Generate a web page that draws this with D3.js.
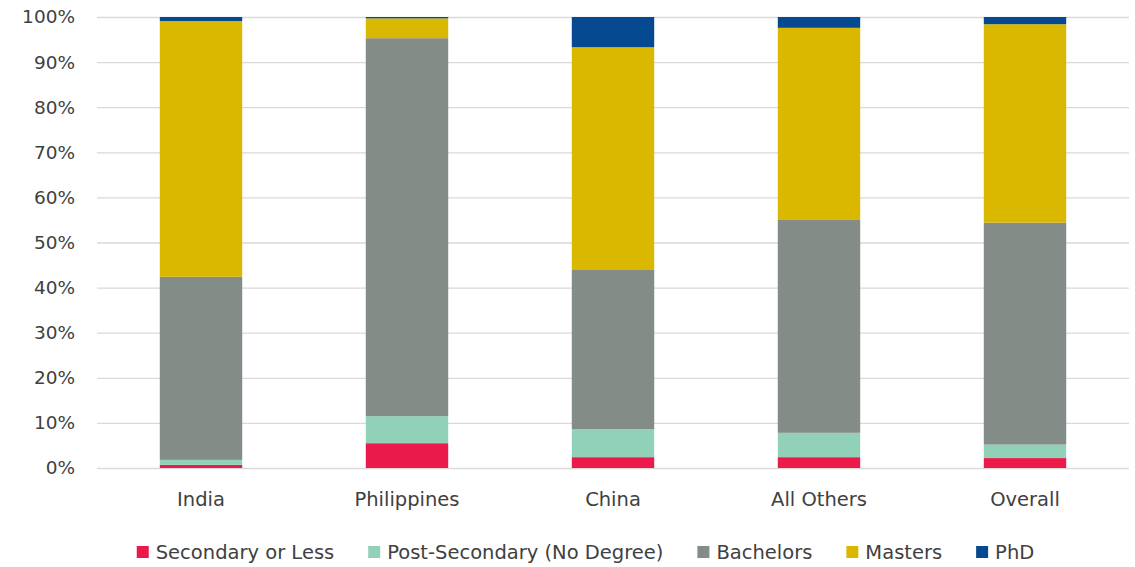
<!DOCTYPE html>
<html>
<head>
<meta charset="utf-8">
<script src="https://cdn.jsdelivr.net/npm/d3@7"></script>
<style>
  html, body { margin: 0; padding: 0; background: #fff; }
  svg text { font-family: "DejaVu Sans", "Liberation Sans", sans-serif; fill: #404040; }
</style>
</head>
<body>
<svg id="chart" width="1135" height="567"></svg>
<script>
// Education level shares (%) by country of birth
const categories = ["India", "Philippines", "China", "All Others", "Overall"];
const seriesNames = ["Secondary or Less", "Post-Secondary (No Degree)", "Bachelors", "Masters", "PhD"];
const secondary     = [0.7, 5.5, 2.4, 2.4, 2.2];
const postSecondary = [1.1, 6.0, 6.2, 5.4, 3.0];
const bachelors     = [40.6, 83.8, 35.3, 47.2, 49.2];
const masters       = [56.7, 4.4, 49.4, 42.6, 44.0];
const phd           = [0.9, 0.3, 6.7, 2.4, 1.6];
const yTicks = [0, 10, 20, 30, 40, 50, 60, 70, 80, 90, 100];

const colors = ["#EC1A4B", "#90D1B8", "#848C88", "#DBB800", "#054A91"];
const seriesValues = [secondary, postSecondary, bachelors, masters, phd];

const rows = categories.map((c, i) => {
  const r = { category: c };
  seriesNames.forEach((s, j) => { r[s] = seriesValues[j][i]; });
  return r;
});

const svg = d3.select("#chart");
const plot = { left: 98, right: 1128, top: 17, bottom: 468 };

const x = d3.scaleBand().domain(categories)
  .range([plot.left, plot.right]).paddingInner(0.6).paddingOuter(0.3);
const y = d3.scaleLinear().domain([0, 100]).range([plot.bottom, plot.top]);
const color = d3.scaleOrdinal().domain(seriesNames).range(colors);

// Gridlines and percentage labels
const yAxis = d3.axisLeft(y).tickValues(yTicks)
  .tickFormat(d => d + "%")
  .tickSizeInner(-(plot.right - plot.left + 2)).tickSizeOuter(0).tickPadding(22);
const gy = svg.append("g").attr("transform", `translate(${plot.left - 1},0)`).call(yAxis);
gy.select(".domain").remove();
gy.selectAll(".tick line").attr("stroke", "#d9d9d9").attr("stroke-width", 1.3);
gy.selectAll(".tick text").attr("font-size", 18.5).attr("fill", "#404040")
  .style("font-family", '"DejaVu Sans", sans-serif');

// Stacked bars
const stacked = d3.stack().keys(seriesNames)(rows);
svg.append("g").selectAll("g").data(stacked).join("g")
  .attr("fill", d => color(d.key))
  .selectAll("rect").data(d => d).join("rect")
  .attr("x", d => x(d.data.category))
  .attr("width", x.bandwidth())
  .attr("y", d => y(d[1]))
  .attr("height", d => y(d[0]) - y(d[1]));

// Category labels
svg.append("g").selectAll("text").data(categories).join("text")
  .attr("x", d => x(d) + x.bandwidth() / 2)
  .attr("y", 499)
  .attr("text-anchor", "middle")
  .attr("dominant-baseline", "central")
  .attr("font-size", 19.5)
  .text(d => d);

// Legend
const legend = svg.append("g");
const sq = 12, gapText = 7, gapItem = 34, fs = 19.5;
const items = legend.selectAll("g").data(seriesNames).join("g");
items.append("rect").attr("width", sq).attr("height", sq).attr("y", -sq / 2)
  .attr("fill", d => color(d));
items.append("text").attr("x", sq + gapText).attr("y", 0)
  .attr("dominant-baseline", "central").attr("font-size", fs).text(d => d);
let offset = 0;
const widths = [];
items.each(function () {
  const w = sq + gapText + this.querySelector("text").getComputedTextLength();
  widths.push(w);
});
const total = d3.sum(widths) + gapItem * (widths.length - 1);
const startX = 585.5 - total / 2;
items.attr("transform", (d, i) => {
  const t = `translate(${startX + offset},552)`;
  offset += widths[i] + gapItem;
  return t;
});
</script>
</body>
</html>
